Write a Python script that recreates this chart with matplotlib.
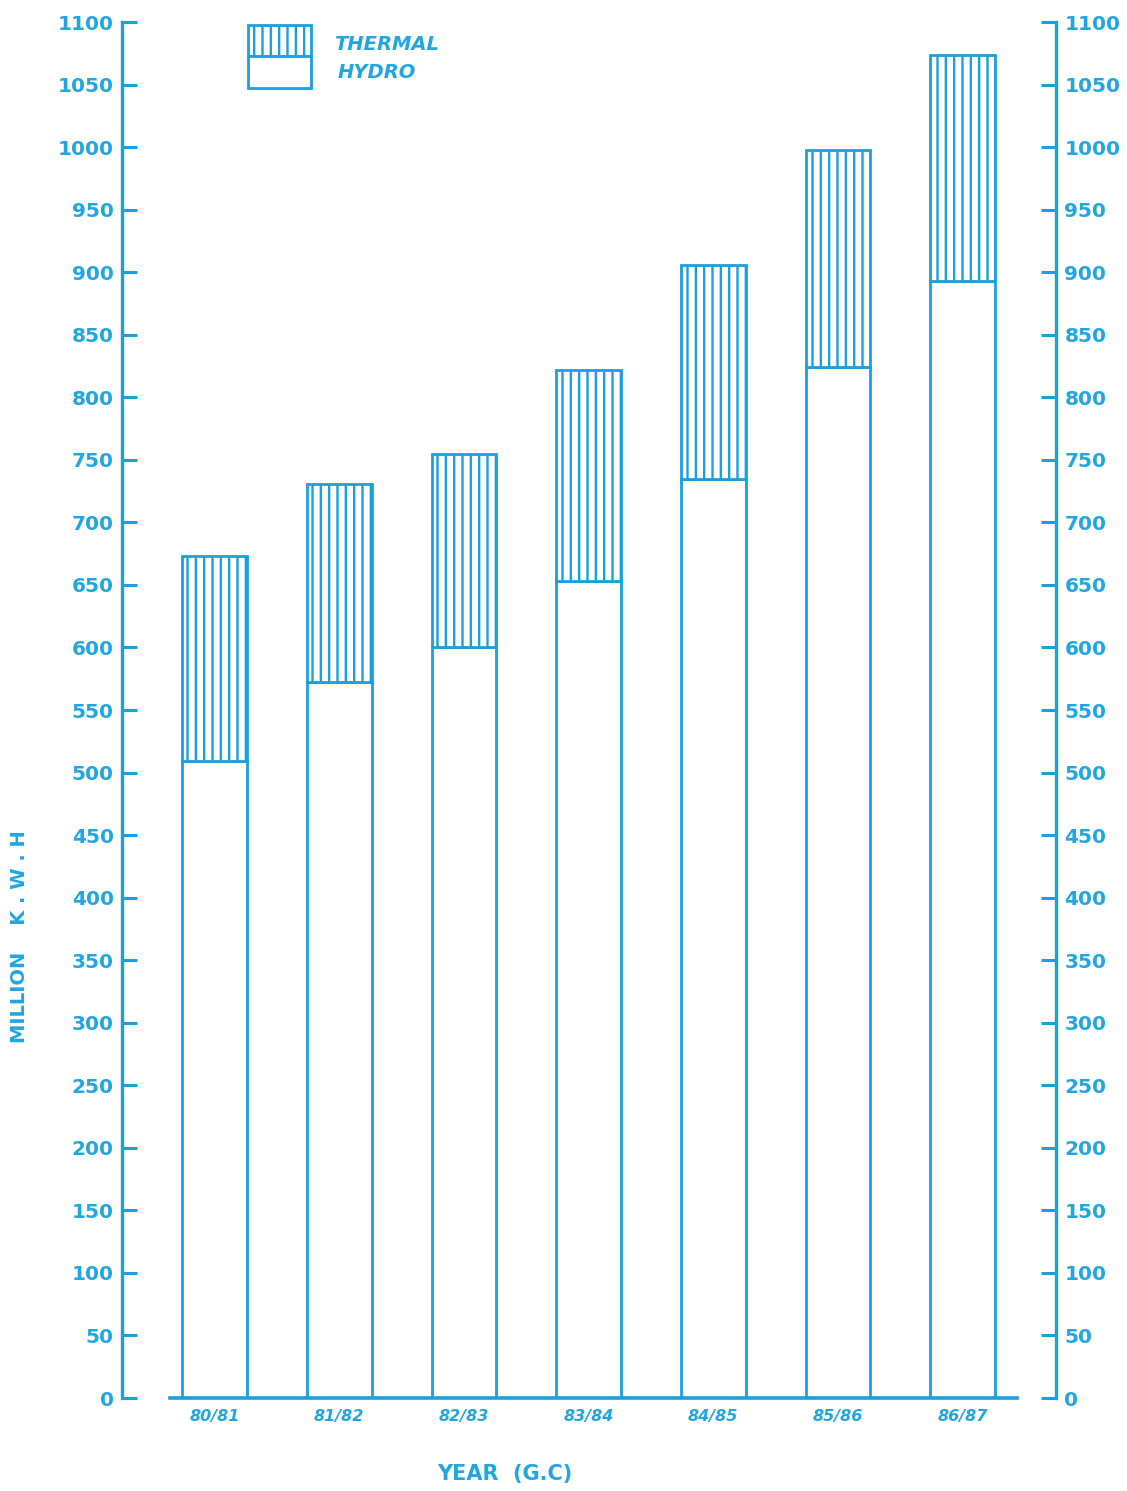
import matplotlib
matplotlib.use("Agg")
import matplotlib.pyplot as plt
from matplotlib.patches import Rectangle

years = ["80/81", "81/82", "82/83", "83/84", "84/85", "85/86", "86/87"]
hydro = [509, 572, 600, 653, 735, 824, 893]
thermal = [164, 159, 155, 169, 171, 174, 181]
yticks = list(range(0, 1101, 50))
left_labels = ["0", "50", "100", "150", "200", "250", "300", "350", "400", "450",
               "500", "550", "600", "650", "700", "750", "800", "850", "900",
               "950", "1000", "1050", "1100"]

BLUE = "#1aa0dc"
TXT = "#22a6e0"

plt.rcParams["hatch.linewidth"] = 1.7
plt.rcParams["hatch.color"] = BLUE

fig = plt.figure(figsize=(11.27, 14.91), dpi=100)
W, H = 1127, 1491
ax = fig.add_axes([122 / W, 1 - 1398 / H, (1056 - 122) / W, (1398 - 22) / H])

x = list(range(len(years)))
ax.bar(x, hydro, width=0.52, color="white", edgecolor=BLUE, linewidth=2.0, zorder=3)
ax.bar(x, thermal, bottom=hydro, width=0.52, color="white", edgecolor=BLUE,
       linewidth=2.0, hatch="||", zorder=3)

ax.set_xlim(-0.742, 6.748)
ax.set_ylim(0, 1100)

for s in ["top", "bottom"]:
    ax.spines[s].set_visible(False)
for s in ["left", "right"]:
    ax.spines[s].set_color(BLUE)
    ax.spines[s].set_linewidth(2.4)

ax.axhline(0, xmin=(170 - 122) / 934, xmax=(1017 - 122) / 934, color=BLUE,
           linewidth=2.6, zorder=4, clip_on=False)

ax.set_yticks(yticks)
ax.set_yticklabels(left_labels)
ax.tick_params(axis="y", which="both", direction="in", length=11, width=2.2,
               color=BLUE, labelcolor=TXT, labelsize=14.5, pad=6,
               left=True, right=True, labelleft=True, labelright=True)
for lab in ax.get_yticklabels():
    lab.set_fontweight("bold")

ax.set_xticks(x)
ax.set_xticklabels(years, fontsize=11.5, style="italic", color=TXT, fontweight="bold")
ax.tick_params(axis="x", length=0, pad=8)

fig.text(505 / W, 1 - 1474 / H, "YEAR  (G.C)", ha="center", va="center",
         fontsize=15, color=TXT, fontweight="bold")
fig.text(20 / W, 1 - 937 / H, "MILLION    K . W . H", ha="center", va="center",
         rotation=90, fontsize=14, color=TXT, fontweight="bold")

# legend
fig.patches.append(Rectangle((248 / W, 1 - 56 / H), 63 / W, 31 / H,
                             transform=fig.transFigure, facecolor="white",
                             edgecolor=BLUE, linewidth=2.0, hatch="||"))
fig.patches.append(Rectangle((248 / W, 1 - 88 / H), 63 / W, 32 / H,
                             transform=fig.transFigure, facecolor="white",
                             edgecolor=BLUE, linewidth=2.0))
fig.text(334 / W, 1 - 44 / H, "THERMAL", ha="left", va="center", fontsize=14,
         style="italic", color=TXT, fontweight="bold")
fig.text(338 / W, 1 - 73 / H, "HYDRO", ha="left", va="center", fontsize=14,
         style="italic", color=TXT, fontweight="bold")

fig.savefig("out.png", dpi=100, facecolor="white")
